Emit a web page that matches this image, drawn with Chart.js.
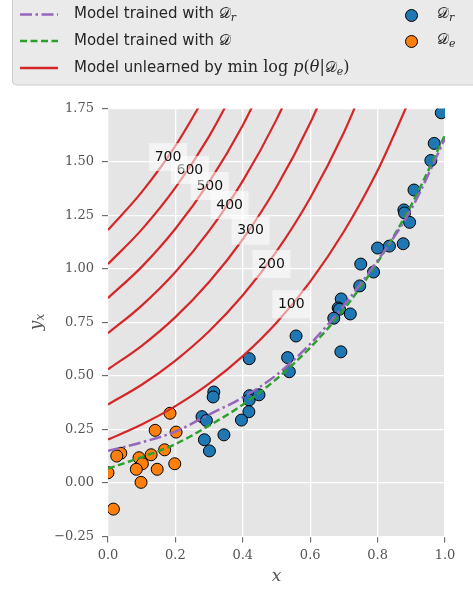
<!DOCTYPE html>
<html>
<head>
<meta charset="utf-8">
<script src="https://cdn.jsdelivr.net/npm/chart.js@4.4.0/dist/chart.umd.min.js"></script>
<style>
  html, body { margin: 0; padding: 0; background: #fff; }
</style>
</head>
<body>
<canvas id="chart" width="473" height="590"></canvas>
<script>
// retained data D_r
const drX = [0.419, 0.314, 0.312, 0.420, 0.419, 0.448, 0.418, 0.396, 0.279, 0.292, 0.286, 0.344, 0.301,
  0.747, 0.692, 0.683, 0.687, 0.719, 0.670, 0.558, 0.691, 0.533, 0.538,
  0.989, 0.968, 0.958, 0.908, 0.878, 0.880, 0.895, 0.876, 0.835, 0.800, 0.750, 0.788];
const drY = [0.581, 0.425, 0.402, 0.408, 0.388, 0.412, 0.333, 0.294, 0.310, 0.292, 0.202, 0.225, 0.150,
  0.921, 0.860, 0.818, 0.812, 0.790, 0.770, 0.687, 0.613, 0.586, 0.520,
  1.730, 1.587, 1.507, 1.369, 1.276, 1.262, 1.218, 1.118, 1.107, 1.098, 1.023, 0.986];

// erased data D_e
const deX = [0.184, 0.140, 0.202, 0.038, 0.026, 0.092, 0.128, 0.168, 0.102, 0.084, 0.146, 0.198, 0.098, 0.016, 0.000];
const deY = [0.326, 0.246, 0.238, 0.139, 0.126, 0.118, 0.132, 0.155, 0.090, 0.064, 0.064, 0.090, 0.003, -0.122, 0.048];

// fitted models
const modelX = [0, 0.1, 0.2, 0.3, 0.4, 0.5, 0.6, 0.7, 0.8, 0.9, 1.0];
const retrainY = [0.150, 0.190, 0.240, 0.320, 0.400, 0.505, 0.650, 0.830, 1.040, 1.280, 1.610];
const fullY = [0.067, 0.121, 0.182, 0.268, 0.366, 0.486, 0.633, 0.812, 1.032, 1.299, 1.626];

// unlearned models, one curve per level of log p
const levels = [700, 600, 500, 400, 300, 200, 100];
const curveX = [0, 0.1, 0.2, 0.3, 0.4, 0.5, 0.6, 0.7, 0.8, 0.9, 1.0];
const curve700 = [1.182, 1.359, 1.575, 1.840];
const curve600 = [1.023, 1.184, 1.380, 1.620, 1.913];
const curve500 = [0.864, 1.010, 1.188, 1.406, 1.672, 1.996];
const curve400 = [0.700, 0.829, 0.986, 1.178, 1.412, 1.698, 2.048];
const curve300 = [0.531, 0.641, 0.775, 0.939, 1.139, 1.383, 1.682, 2.046];
const curve200 = [0.367, 0.459, 0.572, 0.709, 0.877, 1.082, 1.332, 1.638, 2.011];
const curve100 = [0.203, 0.273, 0.359, 0.464, 0.593, 0.749, 0.941, 1.175, 1.460, 1.809];
const labelX = [0.178, 0.243, 0.302, 0.361, 0.423, 0.485, 0.544];
const labelY = [1.523, 1.463, 1.388, 1.299, 1.179, 1.023, 0.835];

const xTicks = [0, 0.2, 0.4, 0.6, 0.8, 1.0];
const yTicks = [-0.25, 0, 0.25, 0.5, 0.75, 1.0, 1.25, 1.5, 1.75];

const BLUE = "#1f77b4", ORANGE = "#ff7f0e", GREEN = "#2ca02c", RED = "#d62728", PURPLE = "#9467bd";
const TICK = "#555555";

const pts = (xs, ys) => ys.map((y, i) => ({ x: xs[i], y: y }));
const curves = [curve700, curve600, curve500, curve400, curve300, curve200, curve100];

const redSets = curves.map((ys, i) => ({
  label: "level " + levels[i],
  data: pts(curveX, ys),
  showLine: true,
  borderColor: RED,
  borderWidth: 2.2,
  pointRadius: 0,
  cubicInterpolationMode: "monotone",
}));

// draw a run of text pieces with different fonts
function drawRuns(ctx, x, y, runs) {
  for (const r of runs) {
    ctx.font = r.f;
    ctx.fillText(r.t, x, y + (r.dy || 0));
    x += ctx.measureText(r.t).width;
  }
}
function runsWidth(ctx, runs) {
  let w = 0;
  for (const r of runs) { ctx.font = r.f; w += ctx.measureText(r.t).width; }
  return w;
}

const SANS = '15px "DejaVu Sans"';
const SERIF = '16px "DejaVu Serif"';
const ITAL = 'italic 16px "DejaVu Serif"';
const SUB = 'italic 11px "DejaVu Serif"';
const CAL = '15px "DejaVu Sans", "DejaVu Serif"';

const decorPlugin = {
  id: "decor",
  beforeDraw(chart) {
    const { ctx, chartArea: a } = chart;
    ctx.save();
    ctx.fillStyle = "#e5e5e5";
    ctx.fillRect(a.left, a.top, a.right - a.left, a.bottom - a.top);
    ctx.restore();
  },
  afterDatasetsDraw(chart) {
    // contour labels
    const { ctx } = chart;
    const xs = chart.scales.x, ys = chart.scales.y;
    ctx.save();
    ctx.font = '14px "DejaVu Sans"';
    ctx.textAlign = "center";
    ctx.textBaseline = "middle";
    for (let i = levels.length - 1; i >= 0; i--) {
      const px = xs.getPixelForValue(labelX[i]);
      const py = ys.getPixelForValue(labelY[i]);
      ctx.fillStyle = "rgba(255,255,255,0.55)";
      ctx.fillRect(px - 19, py - 14, 38, 28);
      ctx.fillStyle = "#111";
      ctx.fillText(String(levels[i]), px, py);
    }
    ctx.restore();
  },
  afterDraw(chart) {
    const { ctx } = chart;
    ctx.save();
    // axis titles
    ctx.fillStyle = TICK;
    ctx.textBaseline = "middle";
    ctx.textAlign = "center";
    ctx.font = 'italic 17px "DejaVu Serif"';
    ctx.fillText("x", 276.5, 577);
    ctx.translate(37, 322);
    ctx.rotate(-Math.PI / 2);
    ctx.textAlign = "left";
    const yRuns = [{ t: "y", f: 'italic 17px "DejaVu Serif"' }, { t: "x", f: 'italic 12px "DejaVu Serif"', dy: 4 }];
    drawRuns(ctx, -runsWidth(ctx, yRuns) / 2, 0, yRuns);
    ctx.restore();

    // legend
    ctx.save();
    ctx.fillStyle = "#eaeaea";
    ctx.strokeStyle = "#cccccc";
    ctx.lineWidth = 1;
    ctx.beginPath();
    ctx.roundRect(12.5, -10, 480, 95, 4);
    ctx.fill();
    ctx.stroke();

    const rows = [14.5, 41, 68];
    const handles = [
      { c: PURPLE, d: [12, 3.5, 2.5, 3.5] },
      { c: GREEN, d: [7, 3.5] },
      { c: RED, d: [] },
    ];
    handles.forEach((h, i) => {
      ctx.strokeStyle = h.c;
      ctx.lineWidth = 2.5;
      ctx.setLineDash(h.d);
      ctx.beginPath();
      ctx.moveTo(20, rows[i]);
      ctx.lineTo(58, rows[i]);
      ctx.stroke();
    });
    ctx.setLineDash([]);

    ctx.fillStyle = "#262626";
    ctx.textAlign = "left";
    ctx.textBaseline = "middle";
    drawRuns(ctx, 74, rows[0], [
      { t: "Model trained with ", f: SANS },
      { t: "\u{1D49F}", f: CAL },
      { t: "r", f: SUB, dy: 4 },
    ]);
    drawRuns(ctx, 74, rows[1], [
      { t: "Model trained with ", f: SANS },
      { t: "\u{1D49F}", f: CAL },
    ]);
    drawRuns(ctx, 74, rows[2], [
      { t: "Model unlearned by ", f: SANS },
      { t: "min log ", f: SERIF },
      { t: "p", f: ITAL },
      { t: "(", f: SERIF },
      { t: "\u03B8", f: ITAL },
      { t: "|", f: SERIF },
      { t: "\u{1D49F}", f: CAL },
      { t: "e", f: SUB, dy: 4 },
      { t: ")", f: SERIF },
    ]);

    [[BLUE, rows[0] + 1, "r"], [ORANGE, rows[1] + 0.5, "e"]].forEach(([c, y, s]) => {
      ctx.fillStyle = c;
      ctx.strokeStyle = "#000";
      ctx.lineWidth = 1;
      ctx.beginPath();
      ctx.arc(411.5, y, 6, 0, Math.PI * 2);
      ctx.fill();
      ctx.stroke();
      ctx.fillStyle = "#262626";
      drawRuns(ctx, 437, y - 1, [{ t: "\u{1D49F}", f: CAL }, { t: s, f: SUB, dy: 4 }]);
    });
    ctx.restore();
  },
};

new Chart(document.getElementById("chart"), {
  type: "scatter",
  data: {
    datasets: [
      {
        label: "Model trained with D_r",
        data: pts(modelX, retrainY),
        showLine: true,
        borderColor: PURPLE,
        borderWidth: 2.5,
        borderDash: [12, 3.5, 2.5, 3.5],
        pointRadius: 0,
        cubicInterpolationMode: "monotone",
      },
      {
        label: "Model trained with D",
        data: pts(modelX, fullY),
        showLine: true,
        borderColor: GREEN,
        borderWidth: 2.5,
        borderDash: [7, 3.5],
        pointRadius: 0,
        cubicInterpolationMode: "monotone",
      },
      ...redSets,
      {
        label: "D_e",
        data: pts(deX, deY),
        backgroundColor: ORANGE,
        borderColor: "#000",
        borderWidth: 1,
        pointRadius: 6,
      },
      {
        label: "D_r",
        data: pts(drX, drY),
        backgroundColor: BLUE,
        borderColor: "#000",
        borderWidth: 1,
        pointRadius: 6,
      },
    ],
  },
  options: {
    responsive: false,
    animation: false,
    layout: { padding: { top: 108.5, right: 28, left: 0, bottom: 0 } },
    plugins: { legend: { display: false }, tooltip: { enabled: false } },
    scales: {
      x: {
        type: "linear",
        min: 0,
        max: 1,
        afterFit: (s) => { s.height = 53.5; },
        afterBuildTicks: (s) => { s.ticks = xTicks.map((v) => ({ value: v })); },
        grid: { color: "#ffffff", lineWidth: 1.3, tickColor: TICK, tickLength: 6, tickWidth: 1 },
        border: { display: false },
        ticks: {
          color: TICK,
          padding: 5,
          font: { family: "DejaVu Serif", size: 13 },
          callback: (v) => v.toFixed(1),
        },
      },
      y: {
        type: "linear",
        min: -0.25,
        max: 1.75,
        afterFit: (s) => { s.width = 108; },
        afterBuildTicks: (s) => { s.ticks = yTicks.map((v) => ({ value: v })); },
        grid: { color: "#ffffff", lineWidth: 1.3, tickColor: TICK, tickLength: 6, tickWidth: 1 },
        border: { display: false },
        ticks: {
          color: TICK,
          padding: 8,
          font: { family: "DejaVu Serif", size: 13 },
          callback: (v) => (v < 0 ? "\u2212" : "") + Math.abs(v).toFixed(2),
        },
      },
    },
  },
  plugins: [decorPlugin],
});
</script>
</body>
</html>
